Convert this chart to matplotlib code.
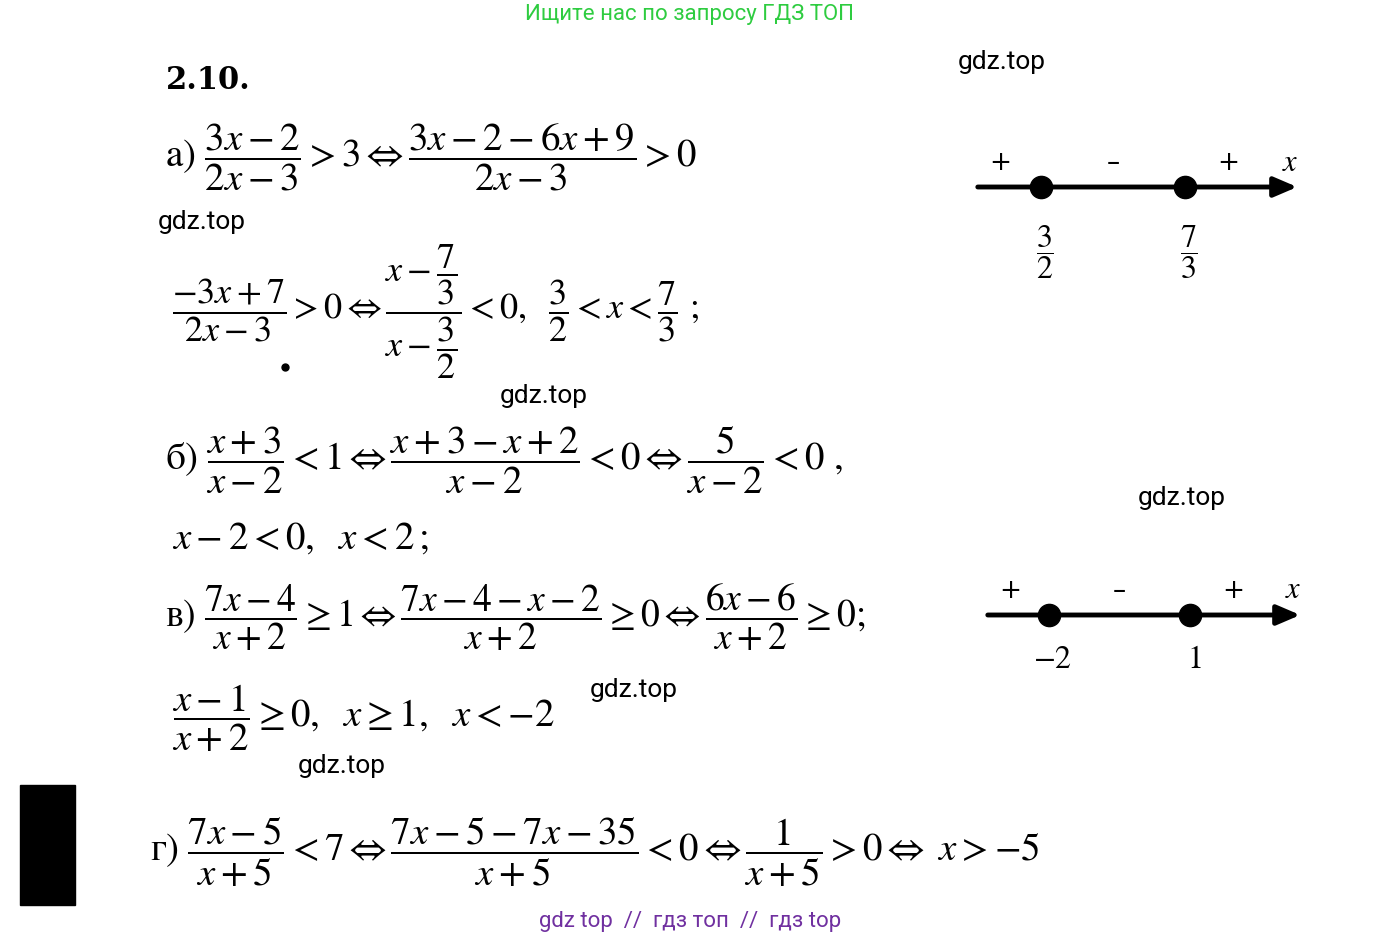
import matplotlib
matplotlib.use("Agg")
import matplotlib.pyplot as plt

plt.rcParams['mathtext.fontset'] = 'stix'
plt.rcParams['font.family'] = ['DejaVu Sans']

# lines of the solution (x, y in pixels, mathtext)
lines = [
    (165, 157, r"$\mathrm{а)}\ \dfrac{3x-2}{2x-3}>3\Leftrightarrow\dfrac{3x-2-6x+9}{2x-3}>0$"),
    (172, 312, r"$\dfrac{-3x+7}{2x-3}>0\Leftrightarrow\dfrac{x-\dfrac{7}{3}}{x-\dfrac{3}{2}}<0,\ \ \dfrac{3}{2}<x<\dfrac{7}{3}\ ;$"),
    (165, 460, r"$\mathrm{б)}\ \dfrac{x+3}{x-2}<1\Leftrightarrow\dfrac{x+3-x+2}{x-2}<0\Leftrightarrow\dfrac{5}{x-2}<0\ ,$"),
    (172, 538, r"$x-2<0,\ \ x<2\,;$"),
    (165, 617, r"$\mathrm{в)}\ \dfrac{7x-4}{x+2}\geq1\Leftrightarrow\dfrac{7x-4-x-2}{x+2}\geq0\Leftrightarrow\dfrac{6x-6}{x+2}\geq0;$"),
    (172, 718, r"$\dfrac{x-1}{x+2}\geq0,\ \ x\geq1,\ \ x<-2$"),
    (150, 852, r"$\mathrm{г)}\ \dfrac{7x-5}{x+5}<7\Leftrightarrow\dfrac{7x-5-7x-35}{x+5}<0\Leftrightarrow\dfrac{1}{x+5}>0\Leftrightarrow\ x>-5$"),
]
line_sizes = [28, 26, 28, 28, 27, 28, 28]

watermarks = [(958, 62), (158, 222), (500, 396), (1138, 498), (590, 690), (298, 766)]

# number lines: y, x start, x end, dot positions, dot labels, label y
axis_y = [187, 615]
axis_x0 = [975, 985]
axis_x1 = [1300, 1303]
dots = [[1041, 1185], [1049, 1190]]
dot_labels = [[r"$\dfrac{3}{2}$", r"$\dfrac{7}{3}$"], [r"$-2$", r"$1$"]]
label_y = [252, 660]
signs = ["+", "–", "+"]

fig = plt.figure(figsize=(13.81, 9.41), dpi=100)
ax = fig.add_axes([0, 0, 1, 1])
ax.set_xlim(0, 1381)
ax.set_ylim(941, 0)
ax.axis("off")

ax.text(690, 14, "Ищите нас по запросу ГДЗ ТОП", color="#2ecc40", fontsize=16,
        family="Roboto", ha="center", va="center")
ax.text(166, 80, "2.10.", fontsize=22, fontweight="bold", family="DejaVu Serif",
        ha="left", va="center")

for (x, y, s), fs in zip(lines, line_sizes):
    ax.text(x, y, s, fontsize=fs, ha="left", va="center")

for x, y in watermarks:
    ax.text(x, y, "gdz.top", fontsize=19, family="Roboto", ha="left", va="center")

for i in range(2):
    y = axis_y[i]
    ax.annotate("", xy=(axis_x1[i], y), xytext=(axis_x0[i], y),
                arrowprops=dict(arrowstyle="-|>,head_length=1.4,head_width=0.6",
                                color="black", lw=3.5))
    ax.plot(dots[i], [y, y], "o", color="black", ms=16)
    xs = [axis_x0[i] + 25, (dots[i][0] + dots[i][1]) / 2, dots[i][1] + 43]
    for sx, sg in zip(xs, signs):
        ax.text(sx, y - 24, sg, fontsize=19, ha="center", va="center")
    ax.text(axis_x1[i] - 10, y - 25, r"$x$", fontsize=22, ha="center", va="center")
    for dx, lab in zip(dots[i], dot_labels[i]):
        ax.text(dx + 4, label_y[i], lab, fontsize=23, ha="center", va="center")

ax.add_patch(plt.Rectangle((20, 785), 55, 120, color="black"))
ax.plot([285], [367], "o", color="black", ms=5)

ax.text(690, 922, "gdz top  //  гдз топ  //  гдз top", color="#7030a0", fontsize=16,
        family="Roboto", ha="center", va="center")

fig.savefig("out.png", dpi=100)
